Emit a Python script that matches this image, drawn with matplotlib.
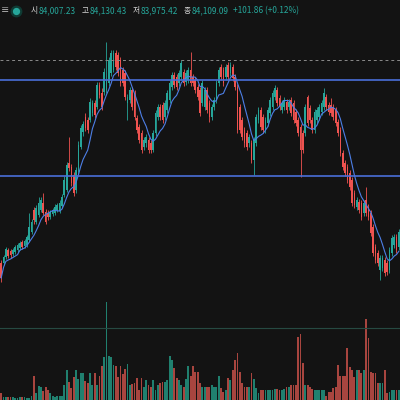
import matplotlib
matplotlib.use("Agg")
import matplotlib.pyplot as plt
import numpy as np
import pandas as pd

# price in chart units, one entry per candle
opens = [37, 37, 43, 50, 49, 46, 48, 50, 52, 58, 54, 55, 60, 68, 90, 78, 85, 90, 97, 88,
         87, 83, 86, 87, 90, 89, 94, 105, 110, 137, 133, 125, 110, 128, 153, 168, 183, 180, 180, 187,
         197, 193, 215,
         207, 208, 210, 217, 227, 230, 247, 245, 240, 230, 227, 197, 200, 210, 207, 182, 173, 167,
         153, 157, 160, 157, 150, 167, 183, 193, 195, 183, 190, 200, 213, 225, 223, 217, 223, 228,
         218, 220, 230, 223, 220, 213, 210,
         197, 193, 210, 197, 183, 193, 200, 217, 233, 230, 223, 235, 227, 233, 223, 213, 193, 180,
         170, 167, 157, 157, 140, 157, 180, 190, 183, 170, 177, 187, 193, 203, 210, 202, 190, 193,
         198, 193, 200, 197, 188, 180,
         173, 167, 167, 203, 192, 180, 170, 180, 183, 188, 193, 203, 195, 195, 193, 190, 178, 170,
         147, 137, 133, 127, 120, 107, 93, 98, 97, 87, 100, 93, 87, 73, 53, 47, 30, 32, 40, 37,
         30, 47, 55, 63, 53]
closes = [22, 43, 51, 44, 45, 50, 53, 55, 57, 53, 59, 63, 73, 78, 80, 92, 97, 100, 87, 78,
          83, 88, 90, 93, 95, 97, 103, 120, 135, 132, 117, 107, 130, 155, 172, 176, 172, 170, 198, 197,
          185, 215, 205,
          193, 228, 220, 240, 247, 247, 233, 227, 217, 217, 203, 203, 210, 193, 183, 170, 160, 150,
          160, 163, 150, 150, 167, 187, 193, 183, 180, 197, 207, 217, 225, 215, 213, 227, 237, 217,
          227, 230, 217, 217, 210, 203, 187,
          217, 210, 190, 183, 193, 200, 217, 230, 223, 217, 233, 223, 235, 222, 213, 170, 170, 163,
          157, 153, 163, 140, 160, 183, 190, 173, 170, 180, 190, 200, 207, 212, 197, 193, 197, 200,
          190, 198, 187, 180, 177, 167,
          150, 150, 193, 177, 180, 170, 188, 190, 193, 197, 207, 193, 188, 187, 183, 177, 167, 147,
          133, 127, 120, 113, 97, 95, 100, 90, 83, 97, 87, 83, 67, 47, 40, 37, 42, 42, 27, 28,
          50, 62, 63, 50, 68]
highs = [40, 45, 53, 52, 51, 52, 55, 57, 59, 60, 61, 65, 87, 81, 93, 95, 103, 103, 107, 91,
         90, 90, 92, 96, 97, 100, 106, 124, 138, 163, 136, 128, 133, 159, 175, 179, 187, 183, 202, 200,
         200, 218, 218,
         212, 232, 258, 243, 250, 250, 250, 248, 243, 233, 230, 206, 213, 213, 210, 185, 176, 170,
         163, 166, 163, 160, 170, 190, 196, 196, 198, 200, 210, 220, 228, 228, 226, 230, 240, 231,
         230, 233, 248, 226, 223, 216, 213,
         220, 213, 213, 200, 196, 203, 220, 233, 236, 233, 236, 238, 238, 236, 226, 216, 196, 183,
         173, 170, 166, 160, 163, 186, 193, 193, 186, 183, 193, 203, 210, 215, 213, 205, 200, 203,
         201, 201, 203, 200, 191, 183,
         176, 170, 196, 205, 195, 183, 191, 193, 196, 200, 212, 206, 198, 202, 196, 193, 181, 173,
         150, 140, 136, 130, 123, 110, 103, 101, 100, 100, 113, 96, 90, 76, 56, 50, 45, 45, 43, 40,
         53, 65, 66, 66, 71]
lows = [18, 35, 41, 42, 42, 44, 46, 48, 50, 51, 52, 53, 58, 66, 76, 76, 83, 88, 85, 76,
        80, 81, 84, 85, 88, 87, 92, 103, 108, 129, 114, 104, 107, 126, 151, 164, 169, 167, 178, 184,
        182, 191, 202,
        190, 205, 207, 214, 224, 228, 230, 224, 214, 214, 200, 180, 197, 190, 180, 167, 157, 147,
        150, 153, 147, 147, 148, 164, 180, 180, 177, 180, 187, 197, 210, 212, 210, 214, 220, 214,
        215, 217, 214, 214, 207, 200, 184,
        194, 190, 187, 178, 180, 190, 197, 214, 220, 214, 220, 220, 224, 219, 210, 167, 167, 160,
        153, 150, 153, 137, 125, 154, 177, 170, 167, 167, 174, 184, 190, 200, 194, 190, 187, 190,
        187, 190, 184, 177, 174, 164,
        123, 147, 164, 174, 177, 167, 167, 177, 180, 185, 190, 190, 185, 184, 180, 174, 164, 144,
        130, 124, 117, 110, 94, 92, 90, 87, 80, 84, 84, 80, 64, 44, 37, 34, 20, 29, 24, 25,
        27, 44, 52, 47, 50]
volumes = [7, 3, 3, 3, 3, 3, 2, 2, 3, 3, 3, 2, 2, 4,
           24, 7, 14, 13, 9, 13, 10, 7, 4, 3, 4, 4, 4,
           15, 30, 18, 12, 23, 30, 21, 27, 27, 19, 17, 27, 15, 27, 15,
           24, 34, 43, 98, 44, 43, 35, 34, 23, 34, 26, 31, 36,
           15, 16, 17, 22, 10, 22, 13, 20, 15, 13, 20, 10, 15, 17, 18, 18, 20,
           44, 40, 32, 22, 20, 15, 13, 21, 34, 24, 34, 28, 28,
           17, 13, 13, 13, 13, 15, 13, 13, 24, 12, 8, 10, 22, 20, 30, 40, 47,
           28, 17, 13, 13, 13, 27, 21, 12, 7, 10, 10, 10, 10, 10, 10, 11, 11, 10, 10, 11, 13, 13, 15, 15, 15,
           63, 66, 37, 15, 15, 13, 11, 10, 10, 10, 10, 10, 4, 8, 8, 12, 13,
           35, 24, 24, 24, 52, 33, 30, 23, 30, 30, 27, 30, 81, 62, 28, 27, 27, 17, 17, 17, 30, 7, 8, 10, 10, 10,
           10]

levels = [220, 124]   # blue horizontal levels
dashed_level = 240
ma_period = 8

header = [("시", "84,007.23"), ("고", "84,130.43"), ("저", "83,975.42"), ("종", "84,109.09")]
change_text = "+101.86 (+0.12%)"

BG = "#131313"
UP = "#26a69a"
DOWN = "#ef5350"
UP_VOL = "#20806f"
DOWN_VOL = "#a8453f"
BLUE = "#4a6fd8"

o = np.array(opens, float)
c = np.array(closes, float)
h = np.array(highs, float)
l = np.array(lows, float)
n = len(o)
x = np.arange(n)
up = c >= o

fig = plt.figure(figsize=(4, 4), dpi=100, facecolor=BG)

# volume panel (pixel-like height units, bottom of the figure)
axv = fig.add_axes([0, 0, 1, 1])
axv.set_facecolor(BG)
axv.bar(x, volumes, width=0.78, color=np.where(up, UP_VOL, DOWN_VOL), linewidth=0)
axv.axhline(72, color="#264a42", lw=0.8)
axv.set_xlim(-0.5, n - 0.5)
axv.set_ylim(0, 400)
axv.axis("off")

# price panel
ax = fig.add_axes([0, 0, 1, 1])
ax.patch.set_alpha(0)
cols = np.where(up, UP, DOWN)
ax.vlines(x, l, h, colors=cols, lw=0.6)
body = np.maximum(np.abs(c - o), 0.8)
ax.bar(x, body, bottom=np.minimum(o, c), width=0.72, color=cols, linewidth=0)

ma = pd.Series(c).rolling(ma_period, min_periods=1).mean()
ax.plot(x, ma, color="#4d7fe6", lw=0.8)

for lv in levels:
    ax.axhline(lv, color=BLUE, lw=1.2)
ax.axhline(dashed_level, color="#8a8a8a", lw=0.7, ls=(0, (3, 3)))

ax.set_xlim(-0.5, n - 0.5)
ax.set_ylim(-100, 300)
ax.axis("off")

# header line
font = ["Noto Sans CJK KR", "DejaVu Sans"]
yh = 1 - 11 / 400
fig.text(0.5 / 400, yh, "≡", color="#cfcfcf", fontsize=6, va="center", family=font)
ax.plot([16 / 400], [yh], "o", ms=7.5, color="#0f3b34", transform=fig.transFigure, clip_on=False)
ax.plot([16 / 400], [yh], "o", ms=4.2, color=UP, transform=fig.transFigure, clip_on=False)
xpos = [31, 82, 133, 184]
for (lab, val), px in zip(header, xpos):
    fig.text(px / 400, yh, lab, color="#d6d6d6", fontsize=5.6, va="center", family=font)
    fig.text((px + 8) / 400, yh, val, color=UP, fontsize=6.0, va="center", family=font)
fig.text(233 / 400, yh, change_text, color=UP, fontsize=6.0, va="center", family=font)

fig.savefig("out.png", dpi=100, facecolor=BG)
